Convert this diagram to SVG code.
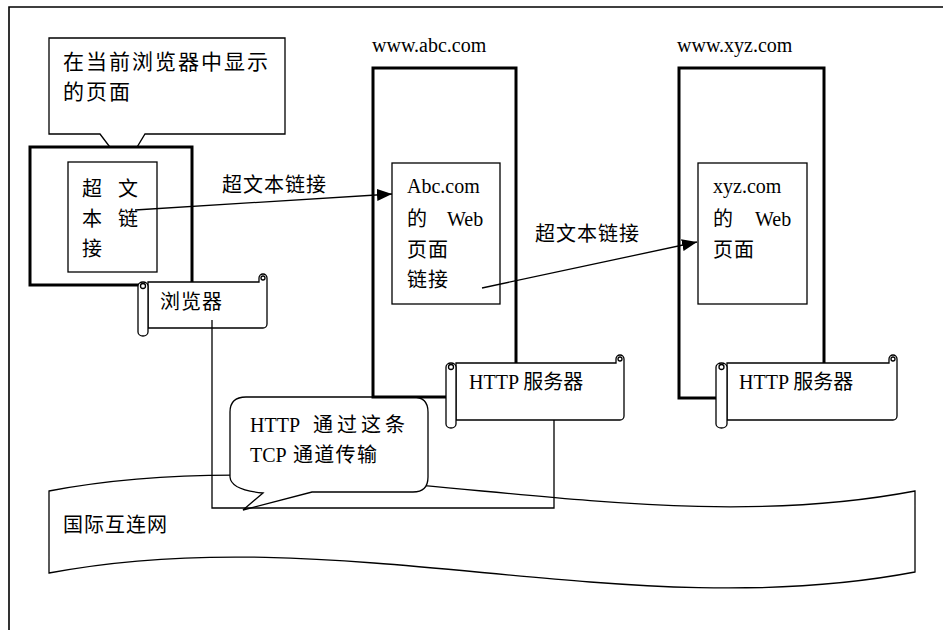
<svg xmlns="http://www.w3.org/2000/svg" width="943" height="630" viewBox="0 0 943 630">
<defs>
<style>
.line{fill:none;stroke:#000;stroke-width:1.3}
.thick{fill:#fff;stroke:#000;stroke-width:3}
.box{fill:#fff;stroke:#000;stroke-width:1.3}
.cjk{font-family:"Noto Sans CJK SC","Noto Sans CJK JP",sans-serif;font-size:20px;letter-spacing:1px;fill:#000}
.lat{font-family:"Liberation Serif","Noto Sans CJK SC",serif;font-size:20px;fill:#000}
</style>
<marker id="arrow" markerUnits="userSpaceOnUse" markerWidth="16" markerHeight="12" refX="15" refY="6" orient="auto">
<path d="M0,0 L15,6 L0,12 Z" fill="#000"/>
</marker>
</defs>
<rect width="943" height="630" fill="#fff"/>
<path d="M9,630 V7 H943" fill="none" stroke="#000" stroke-width="1.6"/>

<g id="internet">
<path class="box" d="M49,491 C338,436 626,546 915,491 V572 C626,627 338,518 49,573 Z"/>
<text class="cjk" x="63" y="532">国际互连网</text>
</g>

<g id="callout">
<path class="box" d="M49,38 H285 V134 H145 L125,167 L100,134 H49 Z"/>
<text class="cjk" x="63" y="69" style="font-size:21px;letter-spacing:2px">在当前浏览器中显示</text>
<text class="cjk" x="63" y="99" style="font-size:21px;letter-spacing:2px">的页面</text>
</g>

<g id="tcp-bubble">
<path class="box" d="M246,397 H413 Q428,397 428,412 V477 Q428,492 413,492 H312 L243,510 L263,493 Q231,490 230,477 V412 Q230,397 246,397 Z"/>
<text class="lat" x="250" y="432">HTTP <tspan class="cjk" x="313" style="letter-spacing:4px">通过这条</tspan></text>
<text class="lat" x="250" y="462">TCP<tspan class="cjk" x="293" style="letter-spacing:1.3px">通道传输</tspan></text>
</g>

<g id="browser">
<rect class="thick" x="30" y="147" width="162" height="138"/>
<rect class="box" x="68" y="162" width="89" height="110"/>
<text class="cjk" x="82" y="196">超<tspan x="118">文</tspan></text>
<text class="cjk" x="82" y="226">本<tspan x="118">链</tspan></text>
<text class="cjk" x="82" y="256">接</text>
</g>

<g id="browser-scroll">
<path class="box" d="M148,282 H259 V278 A4,4 0 0 1 267,278 V324 A4,4 0 0 1 263,328 H148 Z"/>
<path class="box" d="M148,286 A5,4 0 0 0 138,286 V332 A5,4 0 0 0 148,332 Z"/>
<circle class="box" cx="143" cy="286" r="2.5"/>
<circle class="box" cx="263" cy="278" r="2"/>
<text class="cjk" x="160" y="309">浏览器</text>
</g>

<g id="server-abc">
<text class="lat" x="372" y="52">www.abc.com</text>
<rect class="thick" x="373" y="68" width="143" height="329"/>
<rect class="box" x="392" y="163" width="108" height="141"/>
<text class="lat" x="407" y="193">Abc.com</text>
<text class="lat" x="407" y="226">的 <tspan x="447">Web</tspan></text>
<text class="cjk" x="407" y="257">页面</text>
<text class="cjk" x="407" y="287">链接</text>
</g>

<g id="server-xyz">
<text class="lat" x="677" y="52">www.xyz.com</text>
<rect class="thick" x="679" y="68" width="145" height="330"/>
<rect class="box" x="698" y="163" width="109" height="141"/>
<text class="lat" x="713" y="193">xyz.com</text>
<text class="lat" x="713" y="226">的 <tspan x="755">Web</tspan></text>
<text class="cjk" x="713" y="257">页面</text>
</g>

<g id="http-scroll-abc">
<path class="box" d="M456,363 H616 V359 A4,4 0 0 1 624,359 V416 A4,4 0 0 1 620,420 H456 Z"/>
<path class="box" d="M456,367 A5,4 0 0 0 446,367 V424 A5,4 0 0 0 456,424 Z"/>
<circle class="box" cx="451" cy="367" r="2.5"/>
<circle class="box" cx="620" cy="359" r="2"/>
<text class="lat" x="469" y="389">HTTP 服务器</text>
</g>

<g id="http-scroll-xyz">
<path class="box" d="M727,363 H889 V359 A4,4 0 0 1 897,359 V416 A4,4 0 0 1 893,420 H727 Z"/>
<path class="box" d="M727,367 A5.5,4 0 0 0 716,367 V424 A5.5,4 0 0 0 727,424 Z"/>
<circle class="box" cx="721.5" cy="367" r="2.5"/>
<circle class="box" cx="893" cy="359" r="2"/>
<text class="lat" x="739" y="389">HTTP 服务器</text>
</g>

<g id="connectors">
<path class="line" d="M212,320 V508 H554 V420"/>
<line class="line" x1="135" y1="210" x2="392" y2="194" marker-end="url(#arrow)"/>
<text class="cjk" x="222" y="192">超文本链接</text>
<line class="line" x1="482" y1="288" x2="697" y2="242" marker-end="url(#arrow)"/>
<text class="cjk" x="535" y="241">超文本链接</text>
</g>
</svg>
